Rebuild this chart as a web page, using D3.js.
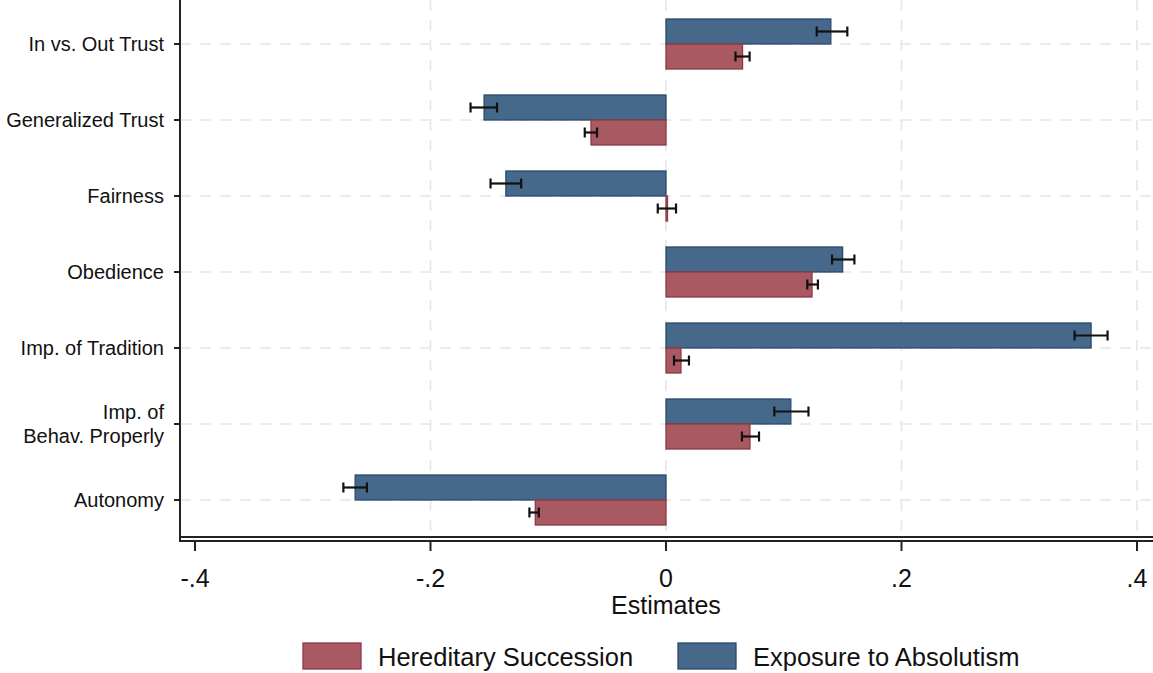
<!DOCTYPE html>
<html>
<head>
<meta charset="utf-8">
<script src="https://cdn.jsdelivr.net/npm/d3@7/dist/d3.min.js"></script>
<style>
  body { margin: 0; background: #fff; }
  svg { display: block; font-family: "Liberation Sans", Arial, sans-serif; }
</style>
</head>
<body>
<div id="mainbox"></div>
<script>
// categories, top to bottom
const categories = ['In vs. Out Trust', 'Generalized Trust', 'Fairness', 'Obedience',
  'Imp. of Tradition', 'Imp. of\nBehav. Properly', 'Autonomy'];

// Exposure to Absolutism (blue)
const absEst = [0.140, -0.1545, -0.136, 0.150, 0.361, 0.106, -0.264];
const absLo  = [0.128, -0.166, -0.149, 0.141, 0.347, 0.092, -0.274];
const absHi  = [0.154, -0.1435, -0.123, 0.160, 0.375, 0.121, -0.254];

// Hereditary Succession (red)
const herEst = [0.065, -0.0637, 0.001, 0.124, 0.0127, 0.0713, -0.111];
const herLo  = [0.059, -0.069, -0.007, 0.120, 0.0068, 0.0645, -0.116];
const herHi  = [0.071, -0.0586, 0.0085, 0.129, 0.0195, 0.079, -0.108];

const xTicks = [-0.4, -0.2, 0, 0.2, 0.4];
const xTickLabels = ['-.4', '-.2', '0', '.2', '.4'];
const xGrid = [-0.2, 0, 0.2, 0.4];

const W = 1153, H = 673;
const col = {
  red: '#a85961', redLine: '#8e3a45',
  blue: '#45688b', blueLine: '#294a6c'
};

const svg = d3.select('#mainbox').append('svg')
  .attr('width', W).attr('height', H);

const x = d3.scaleLinear().domain([-0.4, 0.4]).range([195, 1137]);
const y = d3.scalePoint().domain(categories).range([44, 500]);
const barH = 25;
const plotL = 180, plotB = 537;

// gridlines
svg.append('g').selectAll('line.vg').data(xGrid).enter().append('line')
  .attr('x1', d => x(d)).attr('x2', d => x(d))
  .attr('y1', 0).attr('y2', plotB)
  .attr('stroke', '#e6e6e6').attr('stroke-width', 1.6)
  .attr('stroke-dasharray', '11,9');
svg.append('g').selectAll('line.hg').data(categories).enter().append('line')
  .attr('x1', plotL).attr('x2', W)
  .attr('y1', d => y(d)).attr('y2', d => y(d))
  .attr('stroke', '#e6e6e6').attr('stroke-width', 1.6)
  .attr('stroke-dasharray', '11,9');

const rows = categories.map((c, i) => ({
  c, a: absEst[i], al: absLo[i], ah: absHi[i],
  h: herEst[i], hl: herLo[i], hh: herHi[i]
}));

// blue bars (above center)
svg.append('g').selectAll('rect').data(rows).enter().append('rect')
  .attr('x', d => x(Math.min(0, d.a)))
  .attr('y', d => y(d.c) - barH)
  .attr('width', d => Math.abs(x(d.a) - x(0)))
  .attr('height', barH)
  .attr('fill', col.blue).attr('stroke', col.blueLine).attr('stroke-width', 1.3);

// red bars (below center)
svg.append('g').selectAll('rect').data(rows).enter().append('rect')
  .attr('x', d => x(Math.min(0, d.h)))
  .attr('y', d => y(d.c))
  .attr('width', d => Math.max(1.5, Math.abs(x(d.h) - x(0))))
  .attr('height', barH)
  .attr('fill', col.red).attr('stroke', col.redLine).attr('stroke-width', 1.3);

// error bars
function ci(lo, hi, yc) {
  const g = svg.append('g').attr('stroke', '#111').attr('stroke-width', 2.2);
  g.append('line').attr('x1', x(lo)).attr('x2', x(hi)).attr('y1', yc).attr('y2', yc);
  g.append('line').attr('x1', x(lo)).attr('x2', x(lo)).attr('y1', yc - 5).attr('y2', yc + 5);
  g.append('line').attr('x1', x(hi)).attr('x2', x(hi)).attr('y1', yc - 5).attr('y2', yc + 5);
}
rows.forEach(d => {
  ci(d.al, d.ah, y(d.c) - barH / 2);
  ci(d.hl, d.hh, y(d.c) + barH / 2);
});

// left axis
svg.append('line').attr('x1', plotL).attr('x2', plotL).attr('y1', 0).attr('y2', plotB + 4)
  .attr('stroke', '#222').attr('stroke-width', 2);
svg.append('g').selectAll('line').data(categories).enter().append('line')
  .attr('x1', plotL - 6).attr('x2', plotL).attr('y1', d => y(d)).attr('y2', d => y(d))
  .attr('stroke', '#222').attr('stroke-width', 2);
const lab = svg.append('g').selectAll('text').data(categories).enter().append('text')
  .attr('x', 164).attr('y', d => y(d))
  .attr('text-anchor', 'end').attr('font-size', 20).attr('fill', '#111');
lab.each(function(d) {
  const parts = d.split('\n');
  const t = d3.select(this);
  parts.forEach((p, i) => {
    t.append('tspan').attr('x', 164)
      .attr('dy', i === 0 ? (0.35 - (parts.length - 1) * 0.6) + 'em' : '1.2em')
      .text(p);
  });
});

// bottom axis (double line)
svg.append('line').attr('x1', plotL - 1).attr('x2', W).attr('y1', plotB).attr('y2', plotB)
  .attr('stroke', '#222').attr('stroke-width', 2);
svg.append('line').attr('x1', plotL - 1).attr('x2', W).attr('y1', plotB + 4).attr('y2', plotB + 4)
  .attr('stroke', '#222').attr('stroke-width', 2);
svg.append('g').selectAll('line').data(xTicks).enter().append('line')
  .attr('x1', d => x(d)).attr('x2', d => x(d)).attr('y1', plotB + 4).attr('y2', plotB + 14)
  .attr('stroke', '#222').attr('stroke-width', 2);
svg.append('g').selectAll('text').data(xTicks).enter().append('text')
  .attr('x', d => x(d)).attr('y', 587)
  .attr('text-anchor', 'middle').attr('font-size', 25).attr('fill', '#111')
  .text((d, i) => xTickLabels[i]);

svg.append('text').attr('x', 666).attr('y', 614).attr('text-anchor', 'middle')
  .attr('font-size', 25).attr('fill', '#111').text('Estimates');

// legend
const legend = [
  {label: 'Hereditary Succession', fill: col.red, line: col.redLine, x: 303},
  {label: 'Exposure to Absolutism', fill: col.blue, line: col.blueLine, x: 678}
];
const lg = svg.append('g').selectAll('g').data(legend).enter().append('g');
lg.append('rect').attr('x', d => d.x).attr('y', 643).attr('width', 58).attr('height', 26)
  .attr('fill', d => d.fill).attr('stroke', d => d.line).attr('stroke-width', 1.3);
lg.append('text').attr('x', d => d.x + 75).attr('y', 666)
  .attr('font-size', 25.5).attr('fill', '#111').text(d => d.label);
</script>
</body>
</html>
